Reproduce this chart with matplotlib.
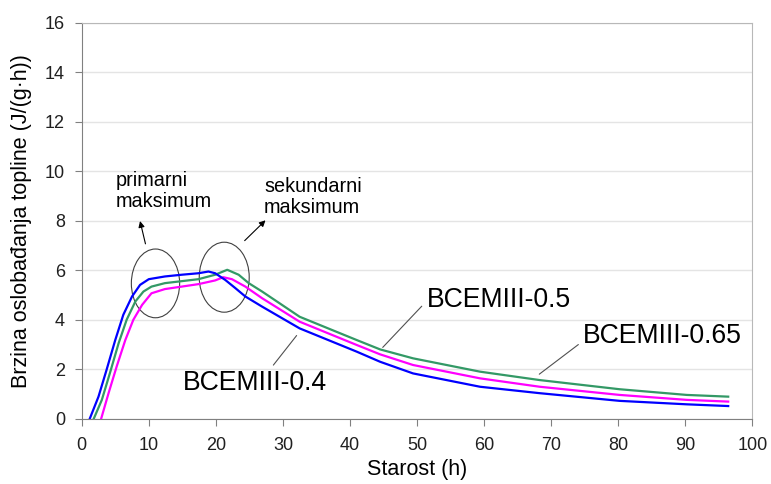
import matplotlib
matplotlib.use("Agg")
import matplotlib.pyplot as plt
from matplotlib.patches import Ellipse

plt.rcParams['font.family'] = ['Liberation Sans', 'DejaVu Sans']

# heat release rate curves
t_04 = [1.2, 2.5, 3.7, 5.0, 6.2, 7.5, 8.7, 10, 12.4, 14.9, 17.4, 18.9, 19.9, 21.4,
        22.9, 24.4, 26.9, 32.5, 41, 44.5, 49.4, 59.4, 68.3, 80.2, 90.2, 96.4]
q_04 = [0, 0.89, 1.97, 3.18, 4.2, 4.94, 5.41, 5.64, 5.75, 5.82, 5.88, 5.95, 5.88, 5.61,
        5.28, 4.94, 4.53, 3.65, 2.71, 2.3, 1.83, 1.29, 1.03, 0.72, 0.58, 0.51]

t_05 = [1.8, 3.0, 4.2, 5.5, 6.7, 8.0, 9.2, 10.4, 12.4, 14.9, 17.4, 19.9, 21.7, 23.4,
        24.9, 26.9, 32.5, 41, 44.5, 49.4, 59.4, 68.3, 80.2, 90.2, 96.4]
q_05 = [0, 0.76, 1.84, 3.05, 4.0, 4.74, 5.14, 5.34, 5.48, 5.56, 5.64, 5.82, 6.02, 5.82,
        5.48, 5.14, 4.12, 3.18, 2.8, 2.44, 1.9, 1.56, 1.19, 0.96, 0.89]

t_065 = [2.9, 4.0, 5.2, 6.5, 7.7, 9.0, 10.4, 12.4, 14.9, 17.4, 19.9, 21.1, 22.4, 24.4,
         26.9, 32.5, 41, 44.5, 49.4, 59.4, 68.3, 80.2, 90.2, 96.4]
q_065 = [0, 1.03, 2.1, 3.18, 4.0, 4.6, 5.07, 5.24, 5.34, 5.44, 5.59, 5.72, 5.64, 5.34,
         4.87, 3.92, 2.98, 2.6, 2.17, 1.63, 1.29, 0.96, 0.76, 0.69]

x_ticks = list(range(0, 101, 10))
y_ticks = list(range(0, 17, 2))

fig = plt.figure(figsize=(7.71, 4.84), dpi=100)
ax = fig.add_axes([0.106, 0.135, 0.8698, 0.8175])

ax.plot(t_065, q_065, color='#ff00ff', lw=1.6)
ax.plot(t_05, q_05, color='#339966', lw=1.6)
ax.plot(t_04, q_04, color='#0000ff', lw=1.6)

ax.set_xlim(0, 100)
ax.set_ylim(0, 16)
ax.set_xticks(x_ticks)
ax.set_yticks(y_ticks)
ax.yaxis.grid(True, color='#e4e4e4', lw=1)
ax.set_axisbelow(True)

for s in ['left', 'bottom']:
    ax.spines[s].set_color('#808080')
for s in ['top', 'right']:
    ax.spines[s].set_color('#b8b8b8')
ax.tick_params(direction='out', length=5, color='#808080', labelsize=13,
               labelcolor='#202020')
ax.tick_params(axis='x', pad=8.5)
ax.tick_params(axis='y', pad=7)

ax.set_xlabel('Starost (h)', fontsize=15.5, labelpad=3)
ax.set_ylabel('Brzina oslobađanja topline (J/(g·h))', fontsize=15.5, labelpad=9)

# ellipses around the two maxima
ax.add_patch(Ellipse((11.0, 5.47), 7.2, 2.78, fill=False, ec='#404040', lw=0.8))
ax.add_patch(Ellipse((21.25, 5.72), 7.45, 2.83, fill=False, ec='#404040', lw=0.8))

arr = dict(arrowstyle='-|>', color='black', lw=0.8, mutation_scale=9)
ax.annotate('', xy=(8.6, 8.1), xytext=(9.6, 6.96), arrowprops=arr)
ax.annotate('', xy=(27.7, 8.1), xytext=(24.0, 7.12), arrowprops=arr)

ax.text(5.0, 9.2, 'primarni\nmaksimum', fontsize=14.3, va='center', ha='left',
        linespacing=1.15)
ax.text(27.2, 8.95, 'sekundarni\nmaksimum', fontsize=14.3, va='center', ha='left',
        linespacing=1.15)

line = dict(arrowstyle='-', color='#505050', lw=0.8)
ax.annotate('BCEMIII-0.4', xy=(32.3, 3.45), xytext=(15.1, 1.44), fontsize=19.2,
            va='center', ha='left', arrowprops=dict(line, relpos=(0.6, 1.0)))
ax.annotate('BCEMIII-0.5', xy=(44.6, 2.8), xytext=(51.4, 4.8), fontsize=19.2,
            va='center', ha='left', arrowprops=dict(line, relpos=(0, 0.45)))
ax.annotate('BCEMIII-0.65', xy=(67.9, 1.73), xytext=(74.8, 3.36), fontsize=19.2,
            va='center', ha='left', arrowprops=dict(line, relpos=(0, 0.3)))

fig.savefig('out.png', dpi=100)
